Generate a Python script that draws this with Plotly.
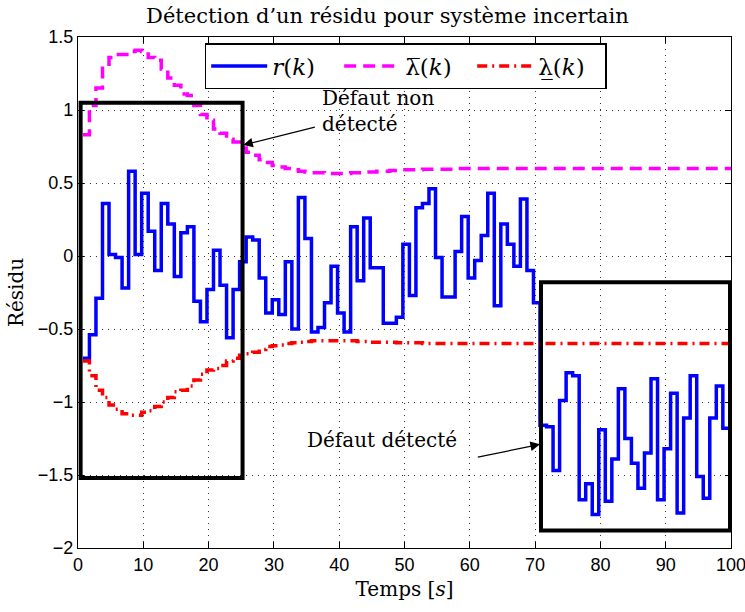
import numpy as np
import plotly.graph_objects as go

# ---- data ----
step_start = 0.75          # first sample time [s]
step_width = 1.0           # sampling period [s]
t_end = 100.0

r_values = [
    -0.70, -0.54, -0.29, 0.36, 0.01, -0.01, -0.22, 0.58, 0.01, 0.43,
    0.17, -0.10, 0.36, 0.22, -0.14, 0.16, 0.20, -0.31, -0.45, -0.23,
    0.04, -0.20, -0.56, -0.23, -0.04, 0.13, 0.11, -0.15, -0.39, -0.30,
    -0.40, -0.04, -0.50, 0.40, 0.12, -0.52, -0.49, -0.32, -0.07, -0.39,
    -0.52, 0.20, -0.17, 0.26, -0.08, -0.08, -0.46, -0.46, -0.42, 0.08,
    -0.27, 0.33, 0.36, 0.46, -0.01, -0.28, -0.28, 0.03, 0.27, -0.15,
    -0.03, 0.14, 0.43, -0.34, 0.22, 0.08, -0.07, 0.39, -0.10, -0.32,
    -1.16, -1.17, -1.47, -0.99, -0.80, -0.82, -1.67, -1.56, -1.77, -1.19,
    -1.68, -1.39, -0.91, -1.25, -1.42, -1.59, -1.35, -0.84, -1.67, -1.32,
    -0.94, -1.76, -1.11, -0.82, -1.51, -1.66, -1.11, -0.89, -1.18,
]

lam_up = [
    0.83, 1.03, 1.15, 1.30, 1.36, 1.38, 1.38, 1.40, 1.41, 1.40,
    1.36, 1.34, 1.28, 1.22, 1.17, 1.11, 1.10, 1.03, 0.97, 0.93,
    0.87, 0.84, 0.80, 0.78, 0.74, 0.71, 0.69, 0.66, 0.64, 0.62,
    0.61, 0.60, 0.59, 0.58, 0.575, 0.57, 0.57, 0.565, 0.565, 0.565,
    0.565, 0.57, 0.57, 0.575, 0.575, 0.58, 0.58, 0.585, 0.585, 0.59,
    0.59, 0.59, 0.595, 0.595, 0.595, 0.595, 0.595, 0.60, 0.60, 0.60,
    0.60, 0.60, 0.60, 0.60, 0.60, 0.60, 0.60, 0.60, 0.60, 0.60,
    0.60, 0.60, 0.60, 0.60, 0.60, 0.60, 0.60, 0.60, 0.60, 0.60,
    0.60, 0.60, 0.60, 0.60, 0.60, 0.60, 0.60, 0.60, 0.60, 0.60,
    0.60, 0.60, 0.60, 0.60, 0.60, 0.60, 0.60, 0.60, 0.60,
]

lam_low = [
    -0.72, -0.82, -0.92, -0.97, -1.02, -1.05, -1.08, -1.09, -1.09, -1.07,
    -1.06, -1.03, -1.00, -0.97, -0.93, -0.92, -0.89, -0.85, -0.81, -0.78,
    -0.77, -0.75, -0.72, -0.70, -0.68, -0.67, -0.66, -0.64, -0.62, -0.615,
    -0.61, -0.60, -0.595, -0.59, -0.585, -0.58, -0.58, -0.58, -0.58, -0.58,
    -0.58, -0.58, -0.585, -0.585, -0.59, -0.59, -0.59, -0.59, -0.595, -0.595,
    -0.595, -0.595, -0.60, -0.60, -0.60, -0.60, -0.60, -0.60, -0.60, -0.60,
    -0.60, -0.60, -0.60, -0.60, -0.60, -0.60, -0.60, -0.60, -0.60, -0.60,
    -0.60, -0.60, -0.60, -0.60, -0.60, -0.60, -0.60, -0.60, -0.60, -0.60,
    -0.60, -0.60, -0.60, -0.60, -0.60, -0.60, -0.60, -0.60, -0.60, -0.60,
    -0.60, -0.60, -0.60, -0.60, -0.60, -0.60, -0.60, -0.60, -0.60,
]

# highlighted regions (x0, x1, y0, y1)
box_undetected = (0.4, 25.2, -1.52, 1.05)
box_detected = (70.9, 99.85, -1.88, -0.18)

x_ticks = [0, 10, 20, 30, 40, 50, 60, 70, 80, 90, 100]
y_ticks = [-2, -1.5, -1, -0.5, 0, 0.5, 1, 1.5]

# ---- build step time axis ----
n = len(r_values)
t = list(step_start + step_width * np.arange(n)) + [t_end]


def closed(v):
    return list(v) + [v[-1]]


serif = "DejaVu Serif"
sans = "Liberation Sans"

fig = go.Figure()
fig.add_trace(go.Scatter(
    x=t, y=closed(r_values), mode="lines", line_shape="hv",
    line=dict(color="#0000FF", width=3.5),
    name="<i>r</i>(<i>k</i>)"))
fig.add_trace(go.Scatter(
    x=t, y=closed(lam_up), mode="lines", line_shape="hv",
    line=dict(color="#FF00FF", width=3.5, dash="12px,7px"),
    name="\u03bb\u0305(<i>k</i>)"))
fig.add_trace(go.Scatter(
    x=t, y=closed(lam_low), mode="lines", line_shape="hv",
    line=dict(color="#FF0000", width=3.5, dash="10px,5px,2px,5px"),
    name="\u03bb\u0332(<i>k</i>)"))

for (x0, x1, y0, y1) in (box_undetected, box_detected):
    fig.add_shape(type="rect", xref="x", yref="y", x0=x0, x1=x1, y0=y0, y1=y1,
                  line=dict(color="black", width=4))

fig.add_annotation(x=25.3, y=0.76, ax=36.5, ay=0.885, xref="x", yref="y",
                   axref="x", ayref="y", text="", showarrow=True,
                   arrowhead=2, arrowsize=1.6, arrowwidth=1.2, arrowcolor="black")
fig.add_annotation(x=37.0, y=0.99, xref="x", yref="y", text="Défaut non<br>détecté",
                   showarrow=False, xanchor="left", yanchor="middle", align="left",
                   font=dict(family=serif, size=20, color="black"))
fig.add_annotation(x=70.75, y=-1.29, ax=61.0, ay=-1.38, xref="x", yref="y",
                   axref="x", ayref="y", text="", showarrow=True,
                   arrowhead=2, arrowsize=1.6, arrowwidth=1.2, arrowcolor="black")
fig.add_annotation(x=46.5, y=-1.26, xref="x", yref="y", text="Défaut détecté",
                   showarrow=False, xanchor="center", yanchor="middle",
                   font=dict(family=serif, size=20, color="black"))

axis_common = dict(
    showline=True, linecolor="black", linewidth=1.2, mirror="ticks",
    ticks="inside", ticklen=6, tickcolor="black", tickwidth=1,
    showgrid=True, gridcolor="#333333", gridwidth=1, griddash="1px,5px",
    zeroline=False, tickfont=dict(family=sans, size=18, color="black"),
    automargin=False, ticklabeloverflow="allow",
)

fig.update_layout(
    width=745, height=612,
    margin=dict(l=78, r=14, t=37, b=64),
    paper_bgcolor="white", plot_bgcolor="white",
    title=dict(text="Détection d\u2019un résidu pour système incertain",
               x=0.52, xref="container", xanchor="center",
               y=0.974, yref="container", yanchor="middle",
               font=dict(family=serif, size=21, color="black")),
    xaxis=dict(range=[0, 100], tickvals=x_ticks,
               title=dict(text="Temps [<i>s</i>]", standoff=8,
                          font=dict(family=serif, size=20, color="black")),
               **axis_common),
    yaxis=dict(range=[-2, 1.5], tickvals=y_ticks,
               title=dict(text="Résidu", standoff=8,
                          font=dict(family=serif, size=20, color="black")),
               **axis_common),
    legend=dict(orientation="h", x=0.194, y=0.988, xanchor="left", yanchor="top",
                bgcolor="white", bordercolor="black", borderwidth=1.5,
                font=dict(family=serif, size=23, color="black"),
                itemwidth=56, entrywidth=62, entrywidthmode="pixels"),
    showlegend=True,
)

fig.write_html("out.html",
               config={"displayModeBar": False},
               post_script="document.body.style.margin='0';"
                           "document.body.style.padding='0';")
